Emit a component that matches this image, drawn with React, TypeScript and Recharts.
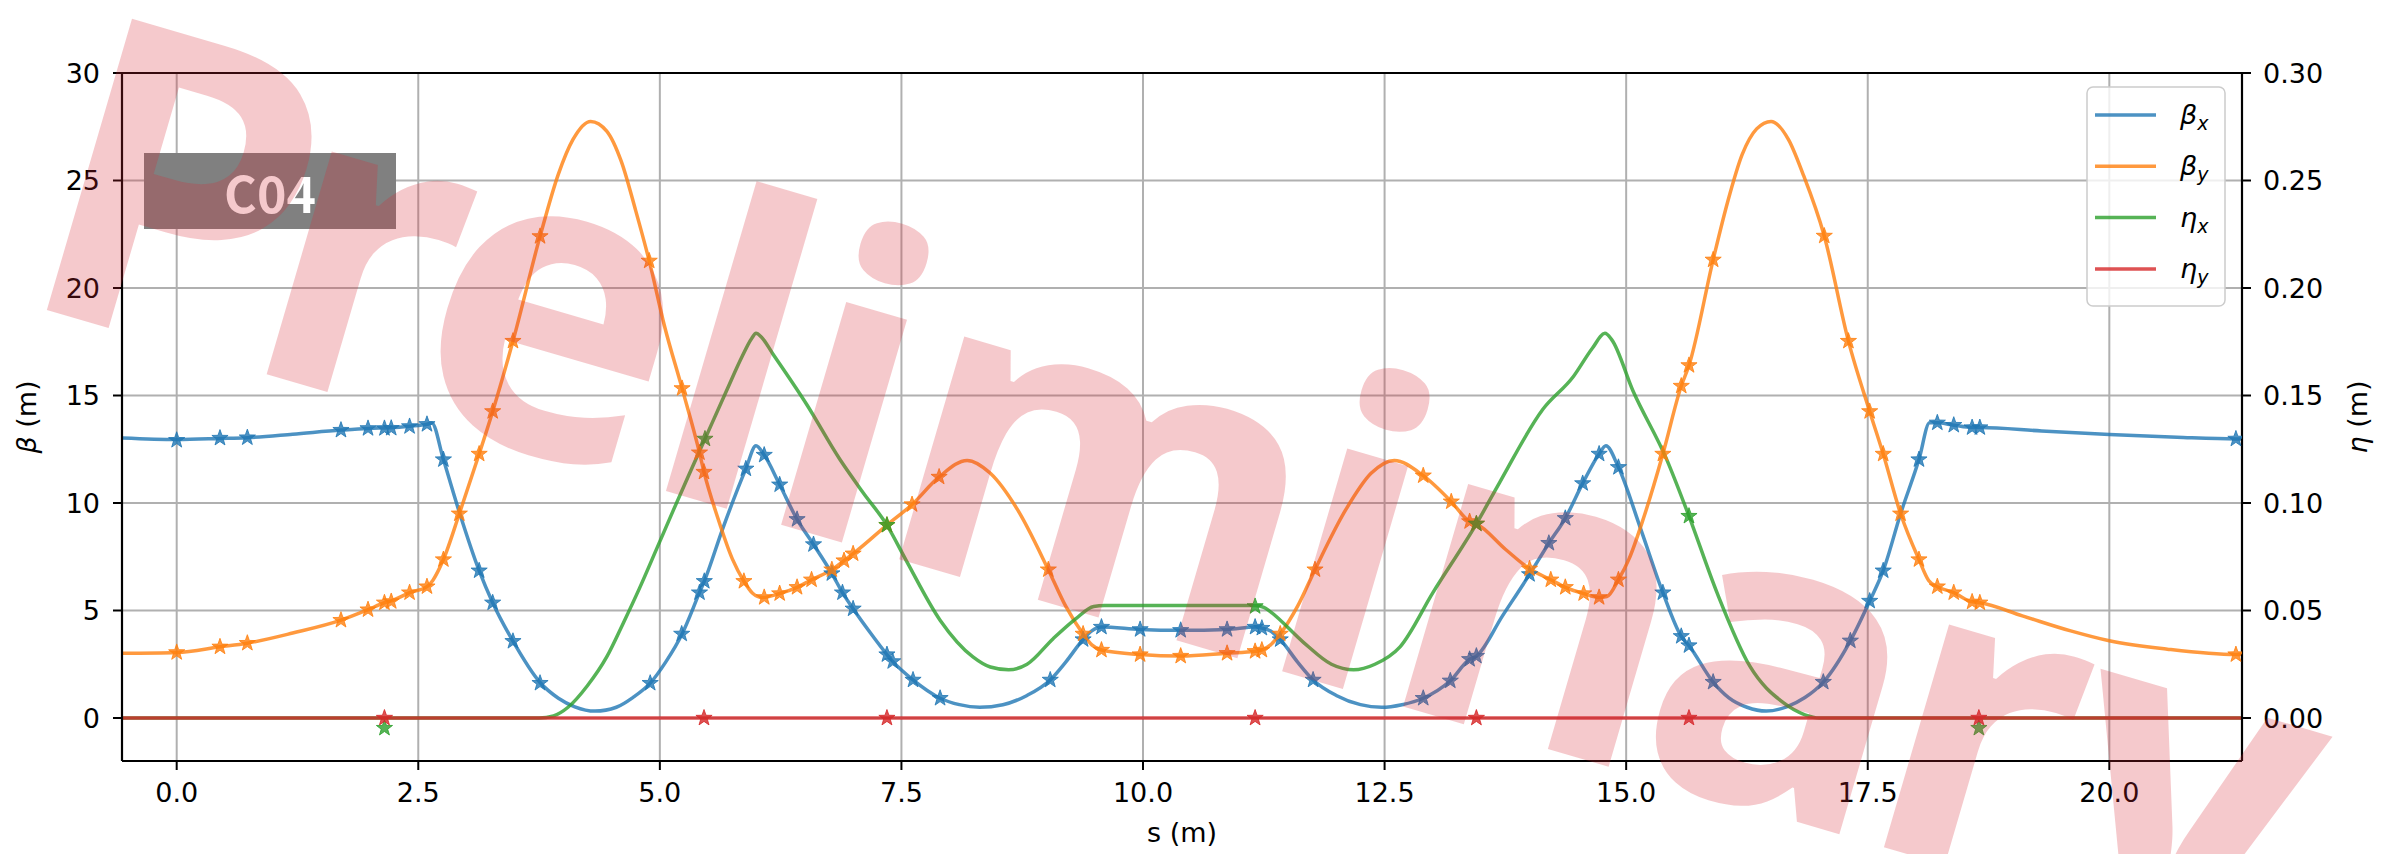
import React from 'react';
import { ComposedChart, Line, Scatter, XAxis, YAxis, CartesianGrid, ReferenceLine } from 'recharts';

// ---------- data ----------
// beta_x curve
const sBetaX = [-0.56, 0.0, 0.45, 0.73, 1.2, 1.7, 1.98, 2.22, 2.41, 2.59, 2.64, 2.76, 2.93, 3.13, 3.27, 3.48, 3.76, 3.95, 4.12, 4.33, 4.55, 4.72, 4.9, 5.06, 5.23, 5.41, 5.46, 5.65, 5.89, 5.995, 6.08, 6.24, 6.42, 6.59, 6.78, 6.89, 7.0, 7.18, 7.35, 7.41, 7.62, 7.9, 8.1, 8.31, 8.55, 8.8, 9.04, 9.2, 9.38, 9.47, 9.57, 9.97, 10.39, 10.87, 11.16, 11.23, 11.32, 11.42, 11.6, 11.76, 12.0, 12.25, 12.47, 12.68, 12.9, 13.18, 13.38, 13.45, 13.72, 14.0, 14.2, 14.37, 14.55, 14.72, 14.79, 14.92, 15.15, 15.38, 15.57, 15.65, 15.9, 16.06, 16.25, 16.45, 16.66, 16.85, 17.04, 17.32, 17.52, 17.66, 17.84, 18.03, 18.14, 18.22, 18.39, 18.58, 18.66, 19.3, 20.0, 20.7, 21.31, 21.37];
const betaX = [13.02, 12.95, 13.0, 13.04, 13.2, 13.39, 13.47, 13.5, 13.57, 13.66, 13.72, 12.02, 9.5, 6.85, 5.36, 3.57, 1.65, 0.92, 0.52, 0.32, 0.5, 0.95, 1.62, 2.6, 3.91, 5.83, 6.36, 8.8, 11.59, 12.66, 12.23, 10.85, 9.24, 8.07, 6.72, 5.83, 5.08, 3.95, 2.95, 2.63, 1.77, 0.92, 0.62, 0.5, 0.62, 1.05, 1.77, 2.6, 3.65, 4.05, 4.23, 4.12, 4.08, 4.12, 4.23, 4.18, 4.05, 3.65, 2.6, 1.77, 1.05, 0.62, 0.5, 0.62, 0.92, 1.73, 2.73, 2.88, 4.75, 6.68, 8.13, 9.29, 10.91, 12.28, 12.66, 11.66, 8.8, 5.83, 3.8, 3.37, 1.67, 0.95, 0.5, 0.32, 0.52, 0.95, 1.67, 3.59, 5.44, 6.85, 9.5, 12.02, 13.73, 13.73, 13.62, 13.51, 13.51, 13.35, 13.19, 13.06, 12.98, 12.98];

// beta_y curve
const sBetaY = [-0.56, 0.0, 0.45, 0.73, 1.2, 1.7, 1.98, 2.15, 2.22, 2.41, 2.59, 2.65, 2.76, 2.925, 3.13, 3.27, 3.48, 3.76, 3.95, 4.1, 4.284, 4.45, 4.6, 4.75, 4.89, 5.05, 5.23, 5.41, 5.457, 5.6, 5.75, 5.87, 5.96, 6.06, 6.24, 6.42, 6.57, 6.78, 6.906, 7.0, 7.35, 7.61, 7.89, 8.18, 8.42, 8.7, 9.02, 9.2, 9.38, 9.47, 9.57, 9.97, 10.39, 10.87, 11.16, 11.23, 11.32, 11.42, 11.6, 11.78, 12.1, 12.36, 12.6, 12.9, 13.19, 13.38, 13.45, 13.75, 14.0, 14.22, 14.37, 14.56, 14.72, 14.8, 14.92, 15.03, 15.18, 15.38, 15.57, 15.65, 15.9, 16.05, 16.2, 16.35, 16.5, 16.68, 16.83, 17.05, 17.3, 17.52, 17.66, 17.84, 18.03, 18.13, 18.22, 18.39, 18.58, 18.66, 19.1, 19.6, 20.0, 20.6, 21.31, 21.37];
const betaY = [3.01, 3.05, 3.31, 3.48, 3.95, 4.55, 5.04, 5.36, 5.45, 5.83, 6.11, 6.4, 7.37, 9.5, 12.28, 14.26, 17.53, 22.4, 25.3, 26.9, 27.75, 27.3, 25.9, 23.6, 21.26, 18.2, 15.33, 12.34, 11.44, 9.3, 7.4, 6.36, 5.8, 5.6, 5.79, 6.08, 6.43, 6.9, 7.32, 7.64, 8.97, 9.93, 11.21, 11.98, 11.38, 9.7, 6.9, 5.2, 3.91, 3.4, 3.16, 2.95, 2.88, 3.01, 3.1, 3.16, 3.4, 3.91, 5.2, 6.9, 9.7, 11.38, 11.98, 11.27, 10.06, 9.14, 9.03, 7.85, 6.94, 6.43, 6.08, 5.79, 5.61, 5.65, 6.43, 7.4, 9.3, 12.28, 15.44, 16.4, 21.31, 24.0, 26.2, 27.4, 27.75, 26.9, 25.3, 22.42, 17.53, 14.26, 12.28, 9.5, 7.37, 6.4, 6.11, 5.83, 5.4, 5.36, 4.75, 4.05, 3.59, 3.2, 2.95, 2.95];

// eta_x curve
const sEtaX = [-0.56, 3.75, 3.9, 4.05, 4.25, 4.45, 4.62, 4.79, 4.97, 5.14, 5.3, 5.467, 5.69, 5.85, 5.95, 5.995, 6.05, 6.17, 6.52, 6.864, 7.1, 7.35, 7.55, 7.9, 8.24, 8.42, 8.61, 8.8, 9.07, 9.3, 9.49, 9.6, 11.16, 11.25, 11.31, 11.66, 11.95, 12.18, 12.4, 12.66, 13.0, 13.45, 13.69, 14.14, 14.45, 14.65, 14.78, 14.85, 15.07, 15.42, 15.65, 15.94, 16.28, 16.63, 16.85, 17.0, 21.37];
const etaX = [0, 0, 0.001, 0.005, 0.015, 0.0284, 0.044, 0.0604, 0.079, 0.0967, 0.113, 0.1298, 0.1522, 0.168, 0.1765, 0.1789, 0.1772, 0.1693, 0.1458, 0.1202, 0.105, 0.0897, 0.0732, 0.0455, 0.0284, 0.0237, 0.0224, 0.025, 0.0369, 0.046, 0.0519, 0.0523, 0.0523, 0.0515, 0.0497, 0.0352, 0.025, 0.0224, 0.025, 0.0331, 0.0583, 0.0903, 0.1095, 0.1437, 0.1586, 0.172, 0.1789, 0.176, 0.1522, 0.1202, 0.0939, 0.0583, 0.0241, 0.007, 0.0015, 0, 0];

// eta_y curve
const sEtaY = [-0.56, 21.37];
const etaY = [0, 0];

// markers (stars)
const sMarkBx = [0, 0.448, 0.731, 1.7, 1.98, 2.15, 2.22, 2.41, 2.59, 2.76, 3.13, 3.27, 3.48, 3.76, 4.9, 5.226, 5.41, 5.46, 5.89, 6.08, 6.24, 6.42, 6.59, 6.78, 6.89, 7.0, 7.35, 7.41, 7.62, 7.9, 9.04, 9.38, 9.57, 9.97, 10.39, 10.87, 11.16, 11.23, 11.42, 11.76, 12.9, 13.18, 13.38, 13.45, 14.0, 14.2, 14.37, 14.55, 14.72, 14.92, 15.38, 15.57, 15.65, 15.9, 17.04, 17.32, 17.52, 17.66, 18.03, 18.22, 18.39, 18.58, 18.66, 21.31];
const markBx = [12.92, 13.02, 13.04, 13.39, 13.47, 13.47, 13.48, 13.56, 13.66, 12.02, 6.85, 5.36, 3.57, 1.62, 1.62, 3.91, 5.83, 6.36, 11.59, 12.23, 10.85, 9.24, 8.07, 6.72, 5.83, 5.08, 2.95, 2.63, 1.77, 0.92, 1.77, 3.65, 4.23, 4.12, 4.08, 4.12, 4.23, 4.18, 3.65, 1.77, 0.92, 1.73, 2.73, 2.88, 6.68, 8.13, 9.29, 10.91, 12.28, 11.66, 5.83, 3.8, 3.37, 1.67, 1.67, 3.59, 5.44, 6.85, 12.02, 13.73, 13.62, 13.51, 13.51, 12.98];

const sMarkBy = [0, 0.448, 0.731, 1.7, 1.98, 2.15, 2.22, 2.41, 2.59, 2.76, 2.925, 3.13, 3.27, 3.48, 3.76, 4.89, 5.23, 5.41, 5.457, 5.87, 6.08, 6.24, 6.42, 6.57, 6.78, 6.906, 7.0, 7.35, 7.61, 7.89, 9.02, 9.38, 9.57, 9.97, 10.39, 10.87, 11.16, 11.23, 11.42, 11.78, 12.9, 13.19, 13.38, 13.45, 14.0, 14.22, 14.37, 14.56, 14.72, 14.92, 15.38, 15.57, 15.65, 15.9, 17.05, 17.3, 17.52, 17.66, 17.84, 18.03, 18.22, 18.39, 18.58, 18.66, 21.31];
const markBy = [3.05, 3.31, 3.48, 4.55, 5.04, 5.36, 5.42, 5.83, 6.11, 7.37, 9.5, 12.28, 14.26, 17.53, 22.4, 21.26, 15.33, 12.34, 11.44, 6.36, 5.61, 5.79, 6.08, 6.43, 6.9, 7.32, 7.64, 8.97, 9.93, 11.21, 6.9, 3.91, 3.16, 2.95, 2.88, 3.01, 3.1, 3.16, 3.91, 6.9, 11.27, 10.06, 9.14, 9.03, 6.94, 6.43, 6.08, 5.79, 5.61, 6.43, 12.28, 15.44, 16.4, 21.31, 22.42, 17.53, 14.26, 12.28, 9.5, 7.37, 6.11, 5.83, 5.4, 5.36, 2.95];

const sMarkEx = [2.15, 5.467, 7.35, 11.16, 13.45, 15.65, 18.65];
const markEx = [-0.0047, 0.1298, 0.0897, 0.0519, 0.0903, 0.0939, -0.0047];

const sMarkEy = [2.15, 5.457, 7.35, 11.16, 13.45, 15.65, 18.65];
const markEy = [0, 0, 0, 0, 0, 0, 0];

const xTicks = [0, 2.5, 5, 7.5, 10, 12.5, 15, 17.5, 20];
const betaTicks = [0, 5, 10, 15, 20, 25, 30];
const etaTicks = [0, 0.05, 0.1, 0.15, 0.2, 0.25, 0.3];

const legendItems = [
  { sym: 'β', sub: 'x', color: '#1f77b4' },
  { sym: 'β', sub: 'y', color: '#ff7f0e' },
  { sym: 'η', sub: 'x', color: '#2ca02c' },
  { sym: 'η', sub: 'y', color: '#d62728' },
];

// watermark text and its glyph starts along the (rotated) baseline
const watermarkText = 'Preliminary';
const watermarkGlyphX = [0, 234, 403, 650, 770, 893, 1292, 1418, 1681, 1919, 2110];

const zip = (s: number[], v: number[]) => s.map((x, i) => ({ s: x, v: v[i] }));

const BLUE = '#1f77b4';
const ORANGE = '#ff7f0e';
const GREEN = '#2ca02c';
const RED = '#d62728';

const W = 2392;
const H = 854;
const FONT = 'DejaVu Sans';

const makeStar = (color: string) => (props: any) => {
  const { cx, cy } = props;
  if (cx == null || cy == null || isNaN(cx) || isNaN(cy)) return <g />;
  const R = 8.5;
  const r = 3.4;
  const pts: string[] = [];
  for (let i = 0; i < 10; i++) {
    const rad = i % 2 === 0 ? R : r;
    const a = -Math.PI / 2 + (i * Math.PI) / 5;
    pts.push(`${(cx + rad * Math.cos(a)).toFixed(2)},${(cy + rad * Math.sin(a)).toFixed(2)}`);
  }
  return <polygon points={pts.join(' ')} fill={color} stroke={color} strokeWidth={1} fillOpacity={0.8} strokeOpacity={0.8} />;
};

const tickStyle = { fontSize: 27, fill: '#000', fontFamily: FONT };

export default function App() {
  const dBx = zip(sBetaX, betaX);
  const dBy = zip(sBetaY, betaY);
  const dEx = zip(sEtaX, etaX);
  const dEy = zip(sEtaY, etaY);
  const mBx = zip(sMarkBx, markBx);
  const mBy = zip(sMarkBy, markBy);
  const mEx = zip(sMarkEx, markEx);
  const mEy = zip(sMarkEy, markEy);

  return (
    <div style={{ position: 'absolute', left: 0, top: 0, width: W, height: H, background: '#fff', overflow: 'hidden' }}>
      <ComposedChart width={W} height={H} margin={{ top: 73, right: 0, bottom: 0, left: 0 }}>
        <CartesianGrid yAxisId="left" xAxisId="main" stroke="#b0b0b0" strokeWidth={2} />
        <XAxis
          xAxisId="main"
          type="number"
          dataKey="s"
          domain={[-0.566, 21.373]}
          allowDataOverflow
          ticks={xTicks}
          tickFormatter={(v: number) => v.toFixed(1)}
          height={93}
          tick={tickStyle}
          tickSize={9}
          tickMargin={13}
          stroke="#000"
          axisLine={{ stroke: '#000', strokeWidth: 2.2 }}
          tickLine={{ stroke: '#000', strokeWidth: 2 }}
        />
        <YAxis
          yAxisId="left"
          type="number"
          domain={[-2, 30]}
          allowDataOverflow
          ticks={betaTicks}
          width={122}
          tick={tickStyle}
          tickSize={9}
          tickMargin={13}
          axisLine={{ stroke: '#000', strokeWidth: 2.2 }}
          tickLine={{ stroke: '#000', strokeWidth: 2 }}
        />
        <YAxis
          yAxisId="right"
          orientation="right"
          type="number"
          domain={[-0.02, 0.3]}
          allowDataOverflow
          ticks={etaTicks}
          tickFormatter={(v: number) => v.toFixed(2)}
          width={150}
          tick={tickStyle}
          tickSize={9}
          tickMargin={12}
          axisLine={{ stroke: '#000', strokeWidth: 2.2 }}
          tickLine={{ stroke: '#000', strokeWidth: 2 }}
        />
        <ReferenceLine yAxisId="left" xAxisId="main" y={30} stroke="#000" strokeWidth={2.2} />

        <Line xAxisId="main" yAxisId="left" data={dBx} dataKey="v" type="monotone" stroke={BLUE} strokeOpacity={0.8} strokeWidth={3.5} dot={false} activeDot={false} isAnimationActive={false} name="βx" />
        <Scatter xAxisId="main" yAxisId="left" data={mBx} dataKey="v" shape={makeStar(BLUE)} isAnimationActive={false} legendType="none" />
        <Line xAxisId="main" yAxisId="left" data={dBy} dataKey="v" type="monotone" stroke={ORANGE} strokeOpacity={0.8} strokeWidth={3.5} dot={false} activeDot={false} isAnimationActive={false} name="βy" />
        <Scatter xAxisId="main" yAxisId="left" data={mBy} dataKey="v" shape={makeStar(ORANGE)} isAnimationActive={false} legendType="none" />
        <Line xAxisId="main" yAxisId="right" data={dEx} dataKey="v" type="monotone" stroke={GREEN} strokeOpacity={0.8} strokeWidth={3.5} dot={false} activeDot={false} isAnimationActive={false} name="ηx" />
        <Scatter xAxisId="main" yAxisId="right" data={mEx} dataKey="v" shape={makeStar(GREEN)} isAnimationActive={false} legendType="none" />
        <Line xAxisId="main" yAxisId="right" data={dEy} dataKey="v" type="linear" stroke={RED} strokeOpacity={0.8} strokeWidth={3.5} dot={false} activeDot={false} isAnimationActive={false} name="ηy" />
        <Scatter xAxisId="main" yAxisId="right" data={mEy} dataKey="v" shape={makeStar(RED)} isAnimationActive={false} legendType="none" />
      </ComposedChart>

      <svg width={W} height={H} style={{ position: 'absolute', left: 0, top: 0, pointerEvents: 'none' }}>
        {/* axis labels */}
        <text x={1182} y={842} textAnchor="middle" fontSize={27} fontFamily={FONT} fill="#000">s (m)</text>
        <text transform="translate(36 417) rotate(-90)" textAnchor="middle" fontSize={27} fontFamily={FONT} fill="#000">
          <tspan fontStyle="italic">β</tspan> (m)
        </text>
        <text transform="translate(2367 417) rotate(-90)" textAnchor="middle" fontSize={27} fontFamily={FONT} fill="#000">
          <tspan fontStyle="italic">η</tspan> (m)
        </text>

        {/* legend */}
        <rect x={2087} y={87} width={138} height={219} rx={6} ry={6} fill="#fff" fillOpacity={0.8} stroke="#cccccc" strokeWidth={1.5} />
        {legendItems.map((it, i) => {
          const yc = 115 + i * 51.3;
          return (
            <g key={i}>
              <line x1={2095} x2={2156} y1={yc} y2={yc} stroke={it.color} strokeOpacity={0.8} strokeWidth={3.5} />
              <text x={2180} y={yc + 9} fontSize={27} fontFamily={FONT} fontStyle="italic" fill="#000">
                {it.sym}
                <tspan fontSize={19} dy={6}>{it.sub}</tspan>
              </text>
            </g>
          );
        })}

        {/* C04 tag */}
        <rect x={144} y={153} width={252} height={76} fill="#808080" />
        <text x={270} y={191} textAnchor="middle" dominantBaseline="central" fontSize={50} fontWeight={700} fontFamily="Noto Sans CJK JP" fill="#fff">C04</text>

        {/* watermark */}
        <g transform="translate(10.2 299.3) rotate(16.3)">
          <text
            x={watermarkGlyphX.join(' ')}
            y={0}
            fontSize={425}
            fontFamily="Open Sans"
            fontWeight={700}
            fill="rgb(214,40,52)"
            fillOpacity={0.25}
          >
            {watermarkText}
          </text>
        </g>
      </svg>
    </div>
  );
}
